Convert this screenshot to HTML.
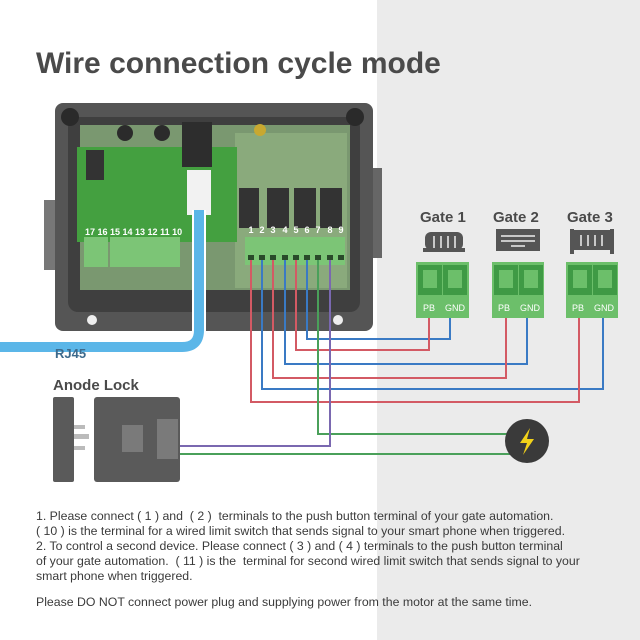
<!DOCTYPE html>
<html><head><meta charset="utf-8"><style>
body{margin:0;width:640px;height:640px;overflow:hidden;background:#fff;font-family:"Liberation Sans",sans-serif}
.t{position:absolute;left:36px;font-size:12.3px;color:#3a3a3a;line-height:15px}
</style></head><body>
<div style="position:absolute;left:377px;top:0;width:263px;height:640px;background:#ebebeb"></div>
<svg width="640" height="640" style="position:absolute;left:0;top:0" font-family="Liberation Sans, sans-serif">
<text x="36" y="73" font-size="30" font-weight="bold" fill="#4a4a4a">Wire connection cycle mode</text>
<!-- device -->
<rect x="44" y="200" width="14" height="70" fill="#777"/>
<rect x="370" y="168" width="12" height="90" fill="#666"/>
<rect x="55" y="103" width="318" height="228" rx="8" fill="#555"/>
<rect x="68" y="117" width="292" height="195" rx="10" fill="#3f3f3f"/>
<circle cx="70" cy="117" r="9" fill="#2a2a2a"/><circle cx="355" cy="117" r="9" fill="#2a2a2a"/>
<circle cx="92" cy="320" r="5" fill="#eee"/><circle cx="338" cy="320" r="5" fill="#eee"/>
<rect x="80" y="125" width="270" height="165" fill="#7a9870"/>
<rect x="235" y="133" width="112" height="155" fill="#8aaa7c"/>
<rect x="77" y="147" width="160" height="95" fill="#44a040"/>
<rect x="182" y="122" width="30" height="45" fill="#2d2d2d"/>
<circle cx="125" cy="133" r="8" fill="#2b2b2b"/><circle cx="162" cy="133" r="8" fill="#2b2b2b"/>
<rect x="86" y="150" width="18" height="30" fill="#333"/>
<circle cx="260" cy="130" r="6" fill="#c8a830"/>
<rect x="239" y="188" width="20" height="40" fill="#333"/><rect x="267" y="188" width="22" height="40" fill="#333"/>
<rect x="294" y="188" width="22" height="40" fill="#333"/><rect x="320" y="188" width="22" height="40" fill="#333"/>
<rect x="84" y="237" width="24" height="30" fill="#7cc576"/><rect x="110" y="237" width="70" height="30" fill="#7cc576"/>
<rect x="245" y="237" width="100" height="28" fill="#7cc576"/>
<g font-size="9" fill="#fff" font-weight="bold">
<text x="85" y="235">17 16 15 14 13 12 11 10</text>
<g text-anchor="middle"><text x="251" y="233">1</text><text x="262" y="233">2</text><text x="273" y="233">3</text><text x="285" y="233">4</text><text x="296" y="233">5</text><text x="307" y="233">6</text><text x="318" y="233">7</text><text x="330" y="233">8</text><text x="341" y="233">9</text></g>
</g>
<g fill="#2a4a2a"><rect x="248" y="255" width="6" height="5"/><rect x="259" y="255" width="6" height="5"/><rect x="270" y="255" width="6" height="5"/><rect x="282" y="255" width="6" height="5"/><rect x="293" y="255" width="6" height="5"/><rect x="304" y="255" width="6" height="5"/><rect x="315" y="255" width="6" height="5"/><rect x="327" y="255" width="6" height="5"/><rect x="338" y="255" width="6" height="5"/></g>
<!-- RJ45 -->
<rect x="187" y="170" width="24" height="45" fill="#f2f2f2"/>
<path d="M199 210 V330 Q199 347 182 347 H0" fill="none" stroke="#fff" stroke-width="14"/>
<path d="M199 210 V330 Q199 347 182 347 H0" fill="none" stroke="#5bb6e8" stroke-width="10"/>
<text x="55" y="358" font-size="13" font-weight="bold" fill="#3d6a8c">RJ45</text>
<!-- wires -->
<g fill="none" stroke-width="2">
<path d="M307 260 V339 H450 V316" stroke="#3a7ac4"/>
<path d="M296 260 V350 H429 V316" stroke="#d35a64"/>
<path d="M285 260 V364 H527 V316" stroke="#3a7ac4"/>
<path d="M273 260 V378 H506 V316" stroke="#d35a64"/>
<path d="M262 260 V389 H603 V316" stroke="#3a7ac4"/>
<path d="M251 260 V402 H579 V316" stroke="#d35a64"/>
<path d="M318 260 V434 H510" stroke="#4aa05a"/>
<path d="M330 260 V446 H180" stroke="#7a68b0"/>
<path d="M180 454 H510" stroke="#4aa05a"/>
</g>
<circle cx="527" cy="441" r="22" fill="#3a3a3a"/>
<path d="M530 428 L520 443 H527 L523 455 L534 439 H527 Z" fill="#f2d21a"/>
<!-- gates -->
<g font-size="15" font-weight="bold" fill="#4a4a4a">
<text x="420" y="222">Gate 1</text><text x="493" y="222">Gate 2</text><text x="567" y="222">Gate 3</text>
</g>
<g fill="#555">
<rect x="425" y="232" width="38" height="18" rx="6"/><rect x="423" y="248" width="42" height="4"/>
<rect x="496" y="229" width="44" height="22"/><rect x="572" y="230" width="40" height="20"/><rect x="570" y="229" width="4" height="25"/><rect x="610" y="229" width="4" height="25"/>
</g>
<g stroke="#eee" stroke-width="1.5"><line x1="501" y1="236" x2="535" y2="236"/><line x1="501" y1="241" x2="535" y2="241"/><line x1="511" y1="246" x2="525" y2="246"/>
<line x1="434" y1="236" x2="434" y2="248"/><line x1="441" y1="236" x2="441" y2="248"/><line x1="448" y1="236" x2="448" y2="248"/><line x1="455" y1="236" x2="455" y2="248"/>
<line x1="581" y1="235" x2="581" y2="246"/><line x1="588" y1="235" x2="588" y2="246"/><line x1="595" y1="235" x2="595" y2="246"/><line x1="602" y1="235" x2="602" y2="246"/></g>
<g>
<rect x="416" y="262" width="53" height="56" fill="#6cbf6a"/><rect x="418" y="265" width="24" height="30" fill="#3f9a45"/><rect x="443" y="265" width="24" height="30" fill="#3f9a45"/><rect x="423" y="270" width="14" height="18" fill="#6cbf6a"/><rect x="448" y="270" width="14" height="18" fill="#6cbf6a"/>
<rect x="492" y="262" width="52" height="56" fill="#6cbf6a"/><rect x="494" y="265" width="24" height="30" fill="#3f9a45"/><rect x="519" y="265" width="24" height="30" fill="#3f9a45"/><rect x="499" y="270" width="14" height="18" fill="#6cbf6a"/><rect x="524" y="270" width="14" height="18" fill="#6cbf6a"/>
<rect x="566" y="262" width="52" height="56" fill="#6cbf6a"/><rect x="568" y="265" width="24" height="30" fill="#3f9a45"/><rect x="593" y="265" width="24" height="30" fill="#3f9a45"/><rect x="573" y="270" width="14" height="18" fill="#6cbf6a"/><rect x="598" y="270" width="14" height="18" fill="#6cbf6a"/>
</g>
<g font-size="9" fill="#fff"><text x="423" y="311">PB</text><text x="445" y="311">GND</text><text x="498" y="311">PB</text><text x="520" y="311">GND</text><text x="572" y="311">PB</text><text x="594" y="311">GND</text></g>
<!-- lock -->
<text x="53" y="390" font-size="15" font-weight="bold" fill="#4a4a4a">Anode Lock</text>
<rect x="53" y="397" width="21" height="85" rx="2" fill="#5a5a5a"/>
<rect x="94" y="397" width="86" height="85" rx="3" fill="#5a5a5a"/>
<rect x="74" y="425" width="11" height="4" fill="#bbb"/><rect x="74" y="434" width="15" height="5" fill="#bbb"/><rect x="74" y="446" width="11" height="4" fill="#bbb"/>
<rect x="122" y="425" width="21" height="27" fill="#7a7a7a"/><rect x="157" y="419" width="21" height="40" fill="#7a7a7a"/>
</svg>
<div class="t" style="top:509px">1. Please connect ( 1 ) and &nbsp;( 2 ) &nbsp;terminals to the push button terminal of your gate automation.<br>( 10 ) is the terminal for a wired limit switch that sends signal to your smart phone when triggered.<br>2. To control a second device. Please connect ( 3 ) and ( 4 ) terminals to the push button terminal<br>of your gate automation. &nbsp;( 11 ) is the &nbsp;terminal for second wired limit switch that sends signal to your<br>smart phone when triggered.</div>
<div class="t" style="top:595px">Please DO NOT connect power plug and supplying power from the motor at the same time.</div>
</body></html>
